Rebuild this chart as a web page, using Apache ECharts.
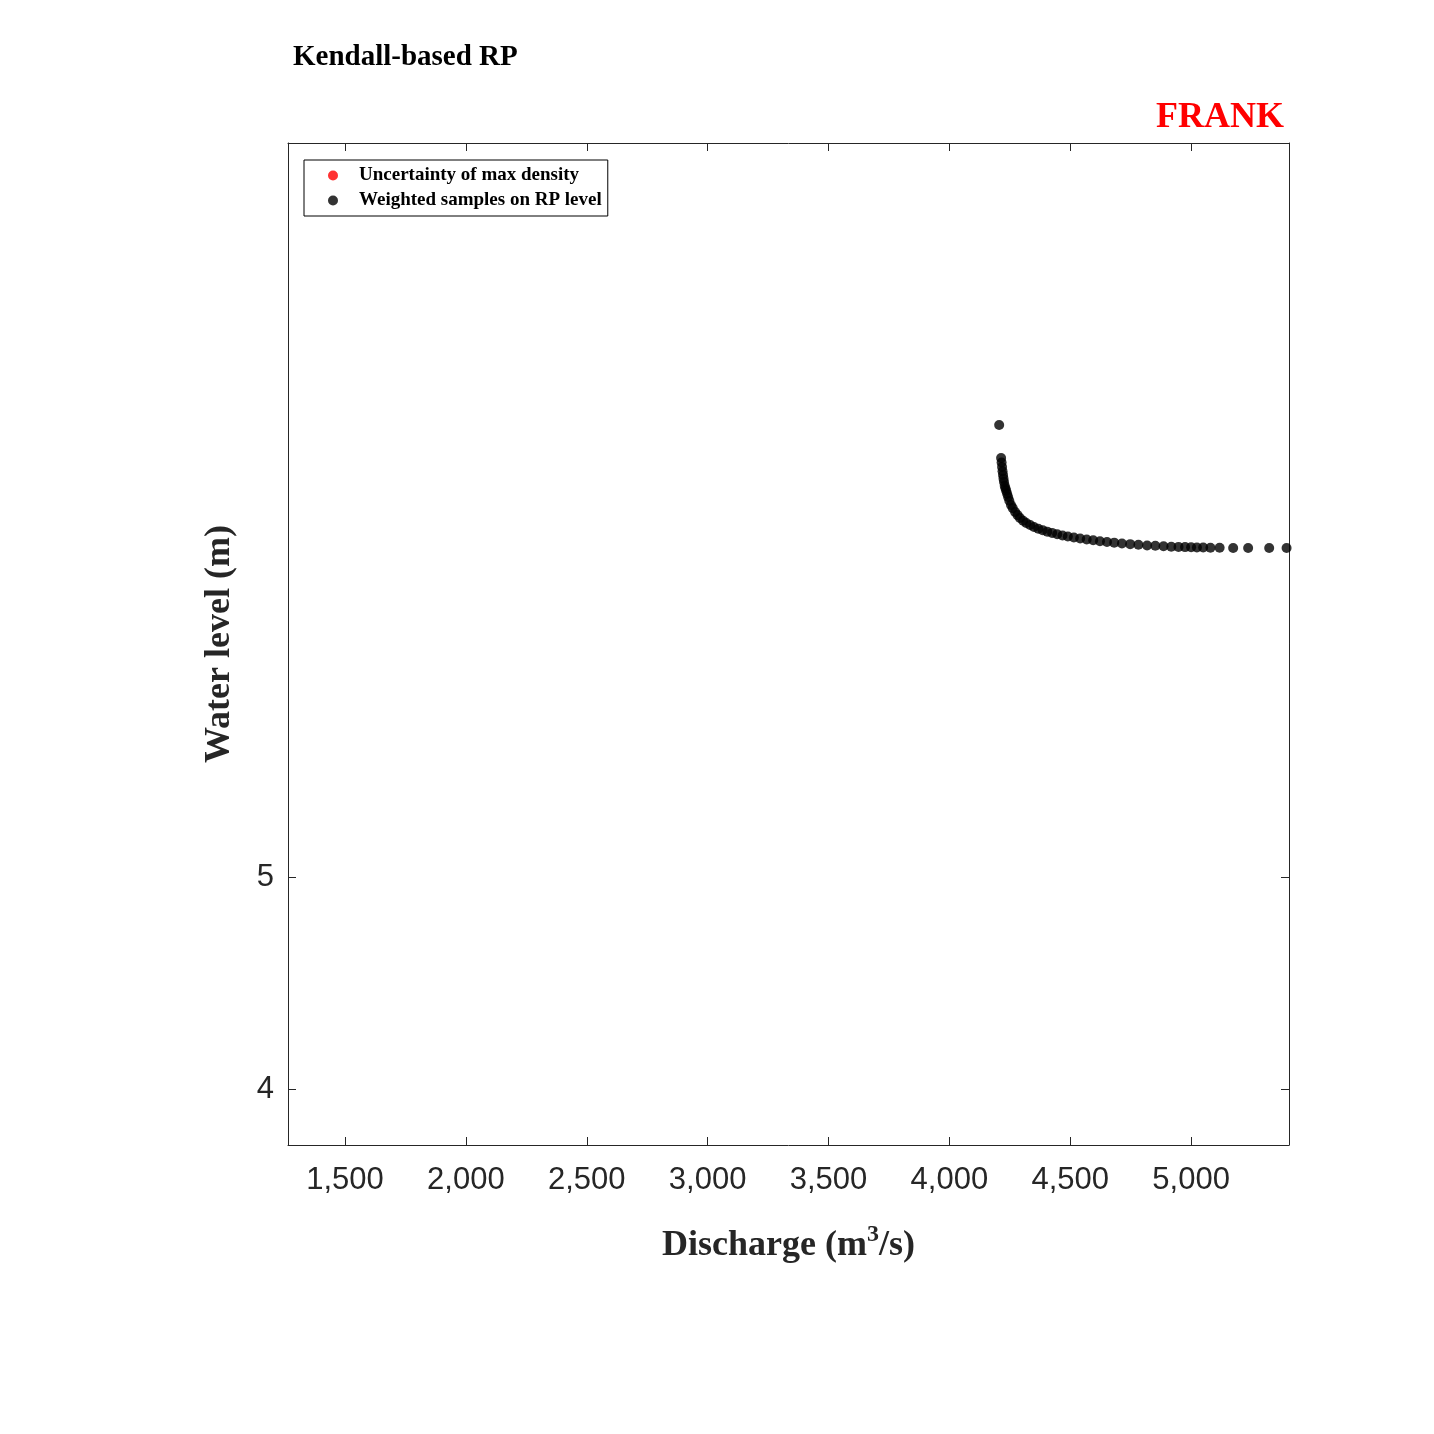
<!DOCTYPE html>
<html lang="en">
<head>
    <meta charset="UTF-8">
    <title>Kendall-based RP</title>
    <script src="https://cdn.jsdelivr.net/npm/echarts@6/dist/echarts.min.js"></script>
</head>
<body style="margin:0">
    <div id="main" style="width:1434px;height:1434px;"></div>
    <script>
        var xTicks = [1500, 2000, 2500, 3000, 3500, 4000, 4500, 5000];
        var yTicks = [4, 5];
        var maxDensity = [];
        var rpQ = [4206, 4214, 4216, 4218, 4220, 4222, 4224, 4226, 4229, 4232, 4235, 4239, 4243, 4248, 4255,
            4262, 4272, 4282, 4292, 4305, 4318, 4334, 4350, 4368, 4386, 4405, 4425, 4446, 4468, 4490, 4515,
            4541, 4568, 4595, 4623, 4652, 4682, 4714, 4748, 4782, 4818, 4852, 4886, 4918, 4948, 4975, 5000,
            5024, 5050, 5080, 5118, 5174, 5236, 5323, 5395];
        var rpH = [7.132, 6.976, 6.955, 6.934, 6.914, 6.896, 6.879, 6.863, 6.845, 6.834, 6.822, 6.808, 6.792, 6.775, 6.755,
            6.740, 6.722, 6.707, 6.693, 6.680, 6.670, 6.660, 6.651, 6.643, 6.636, 6.629, 6.623, 6.617, 6.611, 6.606, 6.601,
            6.597, 6.592, 6.588, 6.584, 6.580, 6.577, 6.573, 6.570, 6.567, 6.564, 6.562, 6.560, 6.558, 6.557, 6.556, 6.555,
            6.554, 6.554, 6.553, 6.553, 6.552, 6.552, 6.552, 6.552];

        var serif = '"Liberation Serif", "Times New Roman", serif';
        var sans = '"Liberation Sans", Arial, sans-serif';
        var xMin = 1264, xMax = 5405, yMin = 3.736, yMax = 8.462;
        var gridBox = { left: 288, top: 143, width: 1001, height: 1002 };

        var myChart = echarts.init(document.getElementById('main'));
        var option = {
            backgroundColor: '#fff',
            animation: false,
            title: [
                { text: 'Kendall-based RP', left: 288, top: 38, textStyle: { fontFamily: serif, fontSize: 29, fontWeight: 'bold', color: '#000' } },
                { text: 'FRANK', right: 145, top: 95, textStyle: { fontFamily: serif, fontSize: 36, fontWeight: 'bold', color: '#ff0000' } }
            ],
            legend: {
                left: 304, top: 160, orient: 'vertical', itemGap: 6, padding: [6, 6, 6, 24],
                borderColor: '#000', borderWidth: 1, borderRadius: 0,
                icon: 'circle', itemWidth: 10, itemHeight: 10,
                textStyle: { fontFamily: serif, fontSize: 19, fontWeight: 'bold', color: '#000', padding: [0, 0, 0, 16] },
                data: ['Uncertainty of max density', 'Weighted samples on RP level']
            },
            grid: gridBox,
            xAxis: [
                {
                    type: 'value', min: xMin, max: xMax, position: 'bottom',
                    name: 'Discharge (m{sup|3}/s)', nameLocation: 'middle', nameGap: 78,
                    nameTextStyle: { fontFamily: serif, fontSize: 36, fontWeight: 'bold', color: '#262626',
                        rich: { sup: { fontFamily: serif, fontSize: 24, fontWeight: 'bold', color: '#262626', verticalAlign: 'top', padding: [0, 0, 22, 0] } } },
                    axisLine: { onZero: false, lineStyle: { color: '#262626', width: 1 } },
                    axisTick: { inside: true, length: 8, customValues: xTicks, lineStyle: { color: '#262626' } },
                    axisLabel: { customValues: xTicks, fontFamily: sans, fontSize: 31, color: '#262626', margin: 20 },
                    splitLine: { show: false }
                },
                {
                    type: 'value', min: xMin, max: xMax, position: 'top',
                    axisLine: { onZero: false, lineStyle: { color: '#262626', width: 1 } },
                    axisTick: { inside: true, length: 8, customValues: xTicks, lineStyle: { color: '#262626' } },
                    axisLabel: { show: false }, splitLine: { show: false }
                }
            ],
            yAxis: [
                {
                    type: 'value', min: yMin, max: yMax, position: 'left',
                    name: 'Water level (m)', nameLocation: 'middle', nameGap: 50,
                    nameTextStyle: { fontFamily: serif, fontSize: 36, fontWeight: 'bold', color: '#262626' },
                    axisLine: { onZero: false, lineStyle: { color: '#262626', width: 1 } },
                    axisTick: { inside: true, length: 8, customValues: yTicks, lineStyle: { color: '#262626' } },
                    axisLabel: { customValues: yTicks, fontFamily: sans, fontSize: 31, color: '#262626', margin: 14 },
                    splitLine: { show: false }
                },
                {
                    type: 'value', min: yMin, max: yMax, position: 'right',
                    axisLine: { onZero: false, lineStyle: { color: '#262626', width: 1 } },
                    axisTick: { inside: true, length: 8, customValues: yTicks, lineStyle: { color: '#262626' } },
                    axisLabel: { show: false }, splitLine: { show: false }
                }
            ],
            series: [
                {
                    name: 'Uncertainty of max density', type: 'scatter', symbolSize: 10,
                    itemStyle: { color: '#ff0000' }, data: maxDensity
                },
                {
                    name: 'Weighted samples on RP level', type: 'scatter', symbolSize: 10,
                    itemStyle: { color: '#000' },
                    data: rpQ.map((q, i) => [q, rpH[i]])
                }
            ]
        };
        myChart.setOption(option);
    </script>
</body>
</html>
